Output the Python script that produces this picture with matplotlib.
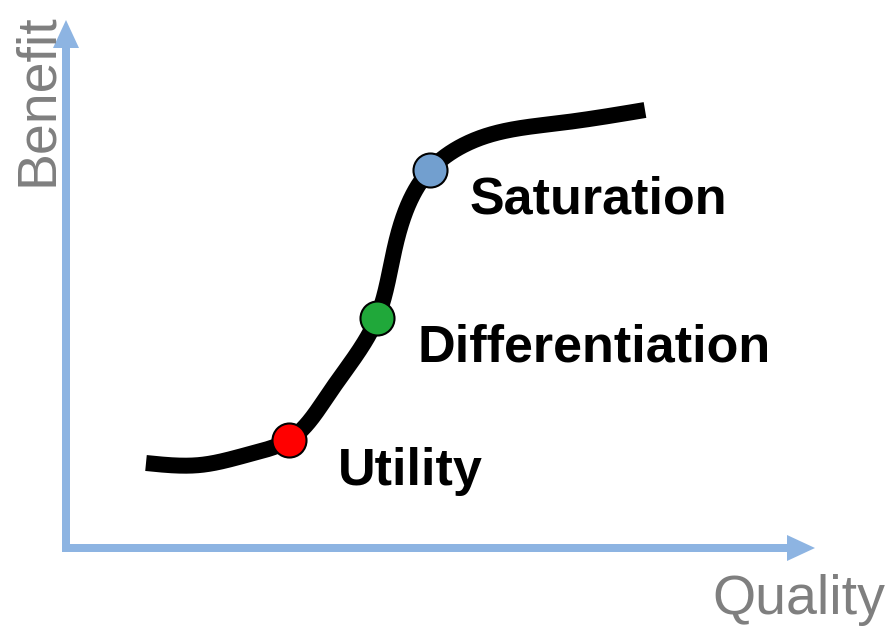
import numpy as np
import matplotlib
matplotlib.use("Agg")
import matplotlib.pyplot as plt
from matplotlib.patches import FancyArrow

curve_x = [146, 200, 250, 289, 330, 377, 395, 430, 480, 560, 645]
curve_y = [167, 165, 176, 190, 238, 312, 383, 460, 492, 507, 520]

stage_names = ["Utility", "Differentiation", "Saturation"]
stage_x = [289, 377, 430]
stage_y = [190, 312, 460]
stage_colors = ["#FF0000", "#20A83A", "#729FCF"]
label_x = [338, 418, 470]
label_y = [158, 282, 430]

axis_labels = ["Quality", "Benefit"]


def natural_spline(t, v, tt):
    n = len(t)
    h = np.diff(t)
    A = np.zeros((n, n))
    b = np.zeros(n)
    A[0, 0] = A[-1, -1] = 1
    for i in range(1, n - 1):
        A[i, i - 1] = h[i - 1]
        A[i, i] = 2 * (h[i - 1] + h[i])
        A[i, i + 1] = h[i]
        b[i] = 6 * ((v[i + 1] - v[i]) / h[i] - (v[i] - v[i - 1]) / h[i - 1])
    M = np.linalg.solve(A, b)
    idx = np.clip(np.searchsorted(t, tt) - 1, 0, n - 2)
    t0, t1 = t[idx], t[idx + 1]
    hh = t1 - t0
    a = (t1 - tt) / hh
    c = (tt - t0) / hh
    return (a * v[idx] + c * v[idx + 1]
            + ((a ** 3 - a) * M[idx] + (c ** 3 - c) * M[idx + 1]) * hh ** 2 / 6)


def smooth_path(xs, ys, n=800):
    xs = np.asarray(xs, float)
    ys = np.asarray(ys, float)
    t = np.concatenate([[0], np.cumsum(np.hypot(np.diff(xs), np.diff(ys)))])
    tt = np.linspace(0, t[-1], n)
    return natural_spline(t, xs, tt), natural_spline(t, ys, tt)


fig = plt.figure(figsize=(8.87, 6.30), dpi=100)
ax = fig.add_axes([0, 0, 1, 1])
ax.set_xlim(0, 887)
ax.set_ylim(0, 630)
ax.axis("off")

axis_color = "#8DB4E2"
# x axis arrow
ax.add_patch(FancyArrow(62, 82, 753 - 28, 0, width=8, head_width=26, head_length=28,
                        length_includes_head=False, color=axis_color, lw=0))
# y axis arrow
ax.add_patch(FancyArrow(66, 86, 0, 524 - 28, width=8, head_width=26, head_length=28,
                        length_includes_head=False, color=axis_color, lw=0))

ax.text(885, 30, axis_labels[0], fontsize=40, color="#7F7F7F", family="Liberation Sans",
        ha="right", va="center")
ax.text(38, 530, axis_labels[1], fontsize=40, color="#7F7F7F", family="Liberation Sans",
        ha="center", va="center", rotation=90)

sx, sy = smooth_path(curve_x, curve_y)
ax.plot(sx, sy, color="black", lw=11.5, solid_capstyle="butt", zorder=3)

for x, y, c in zip(stage_x, stage_y, stage_colors):
    ax.plot([x], [y], "o", ms=24.5, mfc=c, mec="black", mew=1.5, zorder=4)

for name, x, y in zip(stage_names, label_x, label_y):
    ax.text(x, y, name, fontsize=37.5, fontweight="bold", family="Liberation Sans",
            ha="left", va="center", color="black")

fig.savefig("out.png", dpi=100)
